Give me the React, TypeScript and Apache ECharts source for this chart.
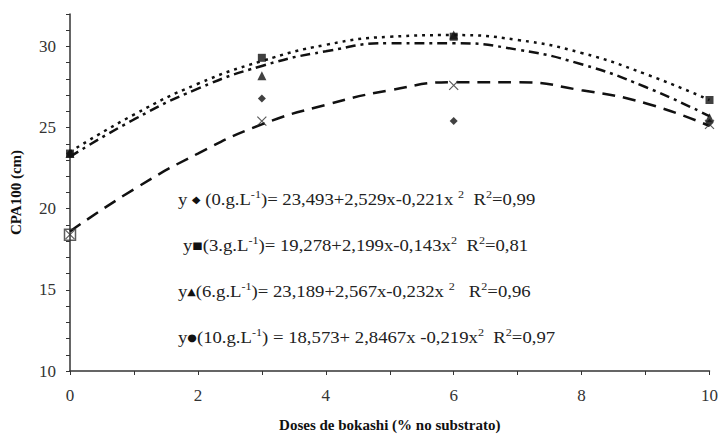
import React, { useEffect, useRef } from "react";
import * as echarts from "echarts";

// Doses of bokashi (x)
const doses = [0, 3, 6, 10];
// Observed points
const diamond0 = [23.4, 26.8, 25.4, 25.3];
const square3 = [23.4, 29.3, 30.6, 26.7];
const triangle6 = [23.4, 28.2, 30.7, 25.6];
const cross10 = [18.4, 25.4, 27.6, 25.2];
const openSquare = [[0, 18.4]];

// Trend curves at integer x
const curveX = [0, 1, 2, 3, 4, 5, 6, 7, 8, 9, 10];
const curveDotted = [23.5, 25.8, 27.7, 29.1, 30.1, 30.6, 30.7, 30.4, 29.6, 28.3, 26.7];
const curveDashDot = [23.2, 25.5, 27.4, 28.8, 29.7, 30.2, 30.2, 29.8, 28.9, 27.5, 25.7];
const curveDashed = [18.6, 21.2, 23.4, 25.2, 26.4, 27.3, 27.8, 27.8, 27.3, 26.5, 25.1];

const equations = [
  "y {m|◆} (0.g.L{s|-1})= 23,493+2,529x-0,221x {s|2}  R{s|2}=0,99",
  "y{m|■}(3.g.L{s|-1})= 19,278+2,199x-0,143x{s|2}  R{s|2}=0,81",
  "y{m|▲}(6.g.L{s|-1})= 23,189+2,567x-0,232x {s|2}   R{s|2}=0,96",
  "y{m|●}(10.g.L{s|-1}) = 18,573+ 2,8467x -0,219x{s|2}  R{s|2}=0,97",
];

const FONT = "'Liberation Serif', 'Times New Roman', serif";

const pairs = (xs: number[], ys: number[]) => xs.map((x, i) => [x, ys[i]]);

export default function App() {
  const ref = useRef<HTMLDivElement>(null);
  useEffect(() => {
    if (!ref.current) return;
    const chart = echarts.init(ref.current, undefined, { renderer: "svg" });
    const eqTops = [189, 235, 281, 327];
    const eqLefts = [178, 183, 178, 178];
    const rich = {
      s: { fontSize: 11, fontFamily: FONT, verticalAlign: "top", fill: "#222", lineHeight: 20 },
      m: { fontSize: 10, fontFamily: "DejaVu Sans", fill: "#111", lineHeight: 20 },
    };
    chart.setOption({
      animation: false,
      backgroundColor: "#fff",
      grid: { left: 66.5, right: 4, top: 14, bottom: 62 },
      xAxis: {
        type: "value",
        min: 0,
        max: 10,
        interval: 1,
        name: "Doses de bokashi (% no substrato)",
        nameLocation: "middle",
        nameGap: 46,
        nameTextStyle: { fontFamily: FONT, fontWeight: "bold", fontSize: 15, color: "#111" },
        axisLine: { lineStyle: { color: "#333", width: 1.5 } },
        axisTick: { length: 4, lineStyle: { color: "#333" } },
        splitLine: { show: false },
        axisLabel: {
          fontFamily: FONT,
          fontSize: 17,
          color: "#333",
          margin: 16,
          formatter: (v: number) => (v % 2 === 0 ? String(v) : ""),
        },
      },
      yAxis: {
        type: "value",
        min: 10,
        max: 32,
        interval: 1,
        name: "CPA100 (cm)",
        nameLocation: "middle",
        nameGap: 47,
        nameTextStyle: { fontFamily: FONT, fontWeight: "bold", fontSize: 15, color: "#111" },
        axisLine: { show: true, lineStyle: { color: "#333", width: 1.5 } },
        axisTick: { show: true, length: 4, lineStyle: { color: "#333" } },
        splitLine: { show: false },
        axisLabel: {
          fontFamily: FONT,
          fontSize: 17,
          color: "#333",
          margin: 14,
          formatter: (v: number) => (v % 5 === 0 ? String(v) : ""),
        },
      },
      graphic: equations.map((t, i) => ({
        type: "text",
        x: eqLefts[i],
        y: eqTops[i],
        scaleX: 1.1,
        z: 100,
        style: {
          text: t,
          rich,
          font: `17px ${FONT}`,
          fill: "#222",
          lineHeight: 20,
        },
      })),
      series: [
        {
          type: "line",
          data: pairs(curveX, curveDotted),
          smooth: true,
          showSymbol: false,
          lineStyle: { color: "#111", width: 2.5, type: [3, 5] },
          z: 2,
        },
        {
          type: "line",
          data: pairs(curveX, curveDashDot),
          smooth: true,
          showSymbol: false,
          lineStyle: { color: "#111", width: 2.5, type: [10, 5, 3, 5] },
          z: 2,
        },
        {
          type: "line",
          data: pairs(curveX, curveDashed),
          smooth: true,
          showSymbol: false,
          lineStyle: { color: "#111", width: 2.5, type: [13, 8] },
          z: 2,
        },
        {
          type: "scatter",
          data: pairs(doses, diamond0),
          symbol: "diamond",
          symbolSize: 8,
          itemStyle: { color: "#111" },
          z: 5,
        },
        {
          type: "scatter",
          data: pairs(doses, triangle6),
          symbol: "triangle",
          symbolSize: 9,
          itemStyle: { color: "#111" },
          z: 5,
        },
        {
          type: "scatter",
          data: pairs(doses, square3),
          symbol: "rect",
          symbolSize: 8,
          itemStyle: { color: "#111" },
          z: 6,
        },
        {
          type: "scatter",
          data: pairs(doses, cross10),
          symbol: "path://M0,0 L10,10 M10,0 L0,10",
          symbolSize: 9,
          itemStyle: { color: "none", borderColor: "#333", borderWidth: 1.2 },
          z: 6,
        },
        {
          type: "scatter",
          data: openSquare,
          symbol: "rect",
          symbolSize: 11,
          itemStyle: { color: "none", borderColor: "#333", borderWidth: 1.5 },
          z: 6,
        },
      ],
    });
    return () => chart.dispose();
  }, []);
  return (
    <div
      ref={ref}
      style={{ position: "fixed", left: 0, top: 0, width: 721, height: 437 }}
    />
  );
}
